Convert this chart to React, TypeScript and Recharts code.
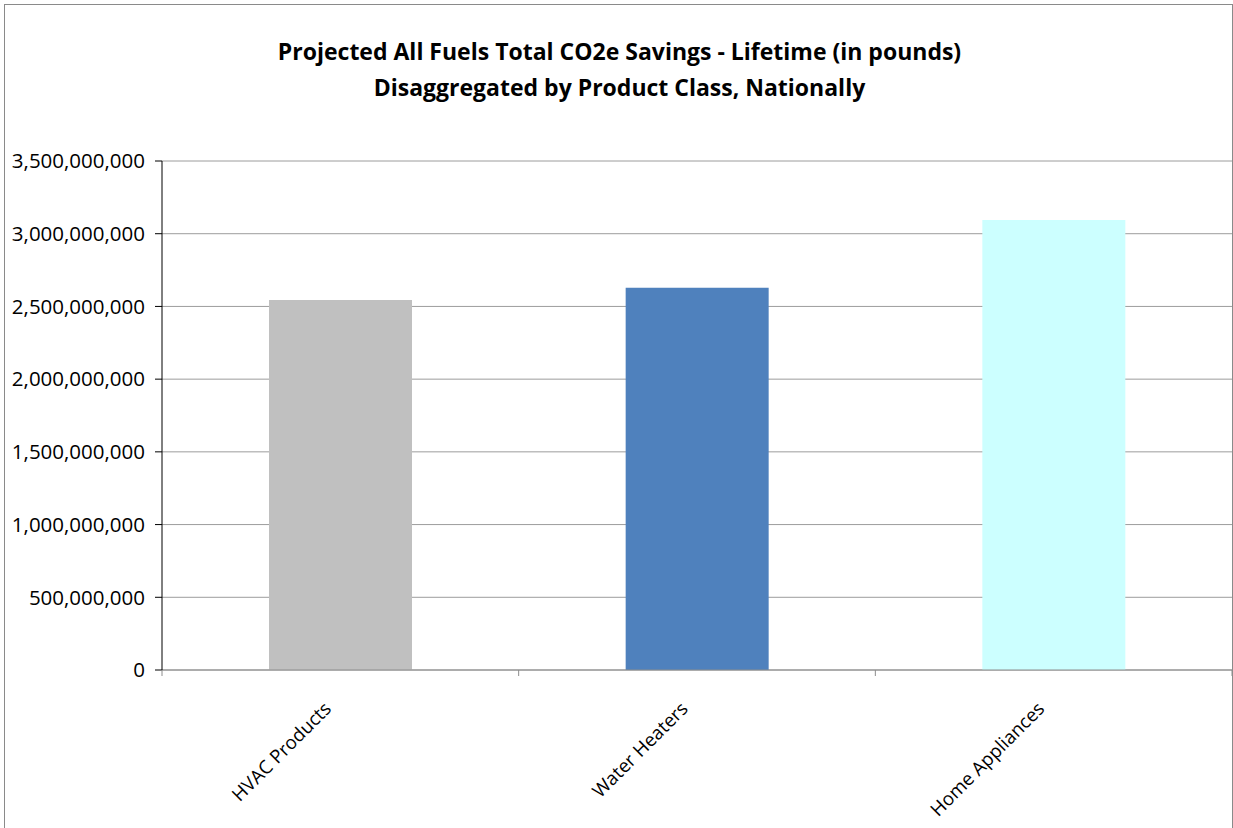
import React from 'react';
import { BarChart, Bar, XAxis, YAxis, CartesianGrid, Cell } from 'recharts';

const categories = ['HVAC Products', 'Water Heaters', 'Home Appliances'];
const savings = [2545000000, 2628000000, 3095000000];
const barColors = ['#C0C0C0', '#4F81BD', '#CCFFFF'];
const yTicks = [0, 500000000, 1000000000, 1500000000, 2000000000, 2500000000, 3000000000, 3500000000];

const data = categories.map((name, i) => ({ name, value: savings[i] }));

const FONT = '"Open Sans", Lato, sans-serif';
const AXIS_GREY = '#8c8c8c';

const fmt = (v: number) => v.toLocaleString('en-US');

// category label rotated -45deg; tick marks sit on the band edges, not the centre
function CategoryTick(props: any) {
  const { x, y, payload, index } = props;
  const half = payload && payload.offset ? payload.offset : 1070 / 6;
  const ax = x - 8;
  const ay = y + 40;
  const last = index === categories.length - 1;
  return (
    <g>
      <line x1={x - half} y1={y} x2={x - half} y2={y + 6} stroke={AXIS_GREY} />
      {last && <line x1={x + half} y1={y} x2={x + half} y2={y + 6} stroke={AXIS_GREY} />}
      <text
        x={ax}
        y={ay}
        textAnchor="end"
        transform={`rotate(-45 ${ax} ${ay})`}
        fontFamily={FONT}
        fontSize={18.7}
        fill="#000"
      >
        {payload.value}
      </text>
    </g>
  );
}

export default function App() {
  return (
    <div style={{ position: 'absolute', left: 0, top: 0, width: 1233, height: 828, background: '#fff', overflow: 'hidden' }}>
      <div
        style={{
          position: 'absolute',
          left: 4,
          top: 4,
          width: 1227,
          height: 860,
          border: '1.5px solid #8a8a8a',
        }}
      />
      <div
        style={{
          position: 'absolute',
          left: 0,
          top: 33,
          width: 1239,
          textAlign: 'center',
          fontFamily: FONT,
          fontWeight: 700,
          fontSize: 23,
          lineHeight: '36px',
          color: '#000',
        }}
      >
        Projected All Fuels Total CO2e Savings - Lifetime (in pounds)
        <br />
        Disaggregated by Product Class, Nationally
      </div>
      <div style={{ position: 'absolute', left: 0, top: 0 }}>
        <BarChart
          width={1233}
          height={828}
          data={data}
          margin={{ top: 161, right: 1, left: 12, bottom: 18 }}
          barCategoryGap="30%"
        >
          <CartesianGrid vertical={false} stroke="#9c9c9c" strokeWidth={1} />
          <XAxis
            dataKey="name"
            height={140}
            interval={0}
            axisLine={{ stroke: AXIS_GREY }}
            tickLine={false}
            tickSize={0}
            tickMargin={0}
            tick={<CategoryTick />}
          />
          <YAxis
            width={150}
            domain={[0, 3500000000]}
            ticks={yTicks}
            interval={0}
            tickFormatter={fmt}
            axisLine={{ stroke: '#000' }}
            tickLine={{ stroke: '#000' }}
            tickSize={7}
            tick={{ fontFamily: FONT, fontSize: 20.5, fill: '#000', dx: -8 }}
          />
          <Bar dataKey="value" isAnimationActive={false}>
            {data.map((d, i) => (
              <Cell key={d.name} fill={barColors[i]} />
            ))}
          </Bar>
        </BarChart>
      </div>
    </div>
  );
}
